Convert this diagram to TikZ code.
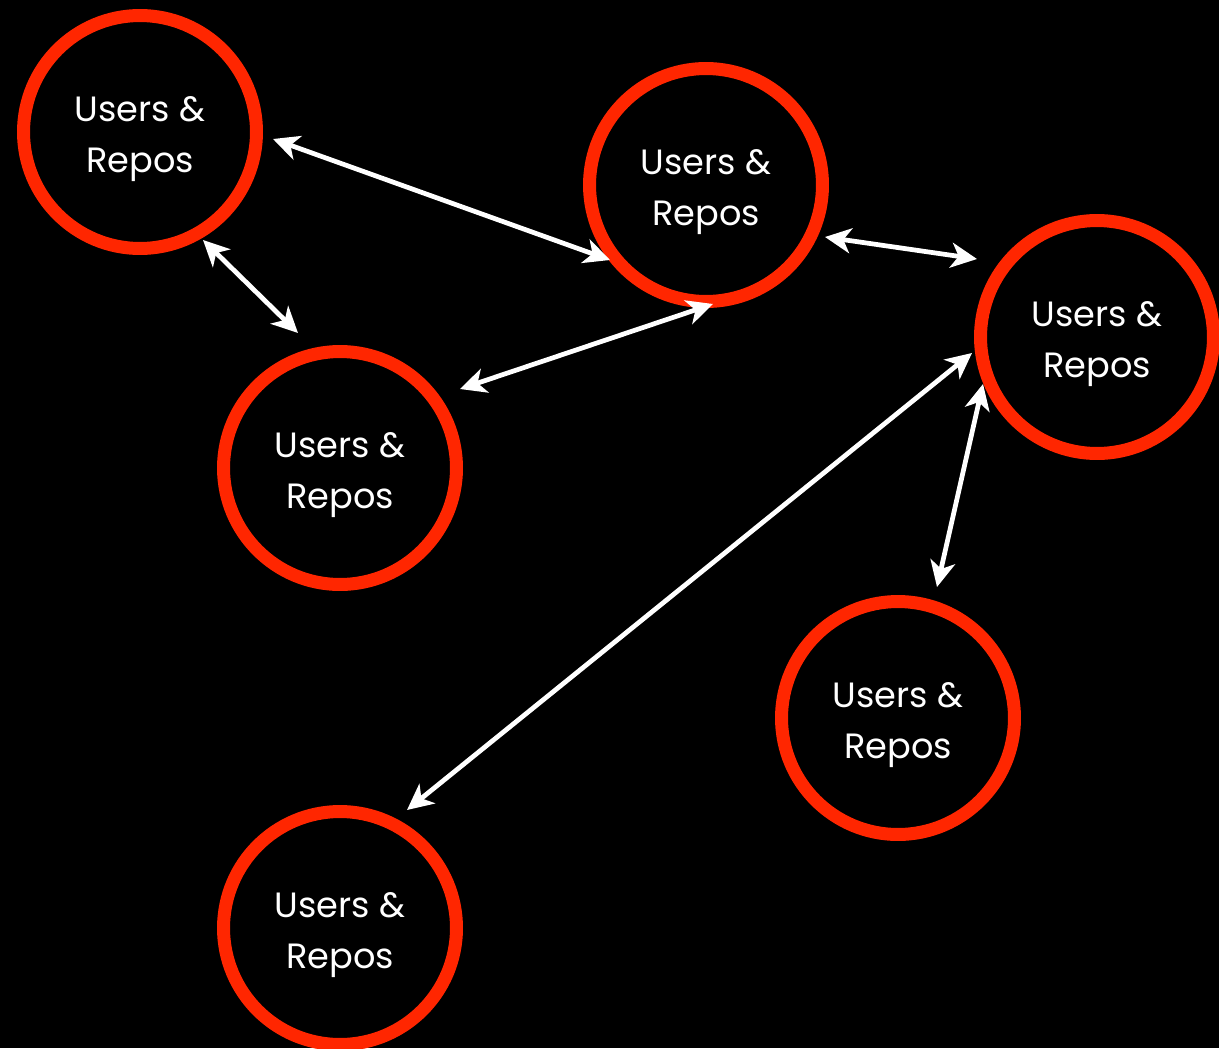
\documentclass[tikz,border=0pt]{standalone}
\usepackage{fontspec}
\setmainfont{Poppins}
\usetikzlibrary{arrows.meta}
\definecolor{ringred}{RGB}{255,38,0}
\tikzset{
  repo/.style={circle, draw=ringred, line width=0.26cm, minimum size=4.66cm,
    inner sep=0pt, text=white, align=center,
    font=\fontsize{20}{29}\selectfont},
  label/.style={text=white, align=center, font=\fontsize{20}{29}\selectfont},
  link/.style={draw=white, line width=0.095cm,
    {Stealth[length=0.52cm, width=0.5cm, inset=0.15cm]}-{Stealth[length=0.52cm, width=0.5cm, inset=0.15cm]}}
}
\begin{document}
\begin{tikzpicture}[x=0.02cm, y=-0.02cm]
  % page area, one unit = one pixel
  \fill[black] (0,0) rectangle (1219,1048);
  \useasboundingbox (0,0) rectangle (1219,1048);
  \clip (0,0) rectangle (1219,1048);

  % the six sites: ring plus its two-line caption
  \foreach \n/\x/\y in {tl/140/132, tm/706/185, rt/1097/337,
                         ml/340/468, lr/898/718, bl/340/928} {
    \node[repo] (\n) at (\x,\y) {};
    \node[label] (\n-text) at (\x,\y+7) {Users \&\\Repos};
  }

  % arrow end points beside the rings
  \coordinate (tl-e) at (273,139);
  \coordinate (tm-w) at (610,260);
  \coordinate (tl-s) at (203,240);
  \coordinate (ml-n) at (298,333);
  \coordinate (tm-e) at (825,237);
  \coordinate (rt-w) at (977,259);
  \coordinate (ml-ne) at (460,389);
  \coordinate (tm-s) at (713,304);
  \coordinate (rt-sw) at (972,353);
  \coordinate (bl-ne) at (407,810);
  \coordinate (rt-s) at (983,384);
  \coordinate (lr-n) at (937,587);

  % two-way links
  \draw[link] (tl-e) -- (tm-w);
  \draw[link] (tl-s) -- (ml-n);
  \draw[link] (tm-e) -- (rt-w);
  \draw[link] (ml-ne) -- (tm-s);
  \draw[link] (rt-sw) -- (bl-ne);
  \draw[link] (rt-s) -- (lr-n);
\end{tikzpicture}
\end{document}
